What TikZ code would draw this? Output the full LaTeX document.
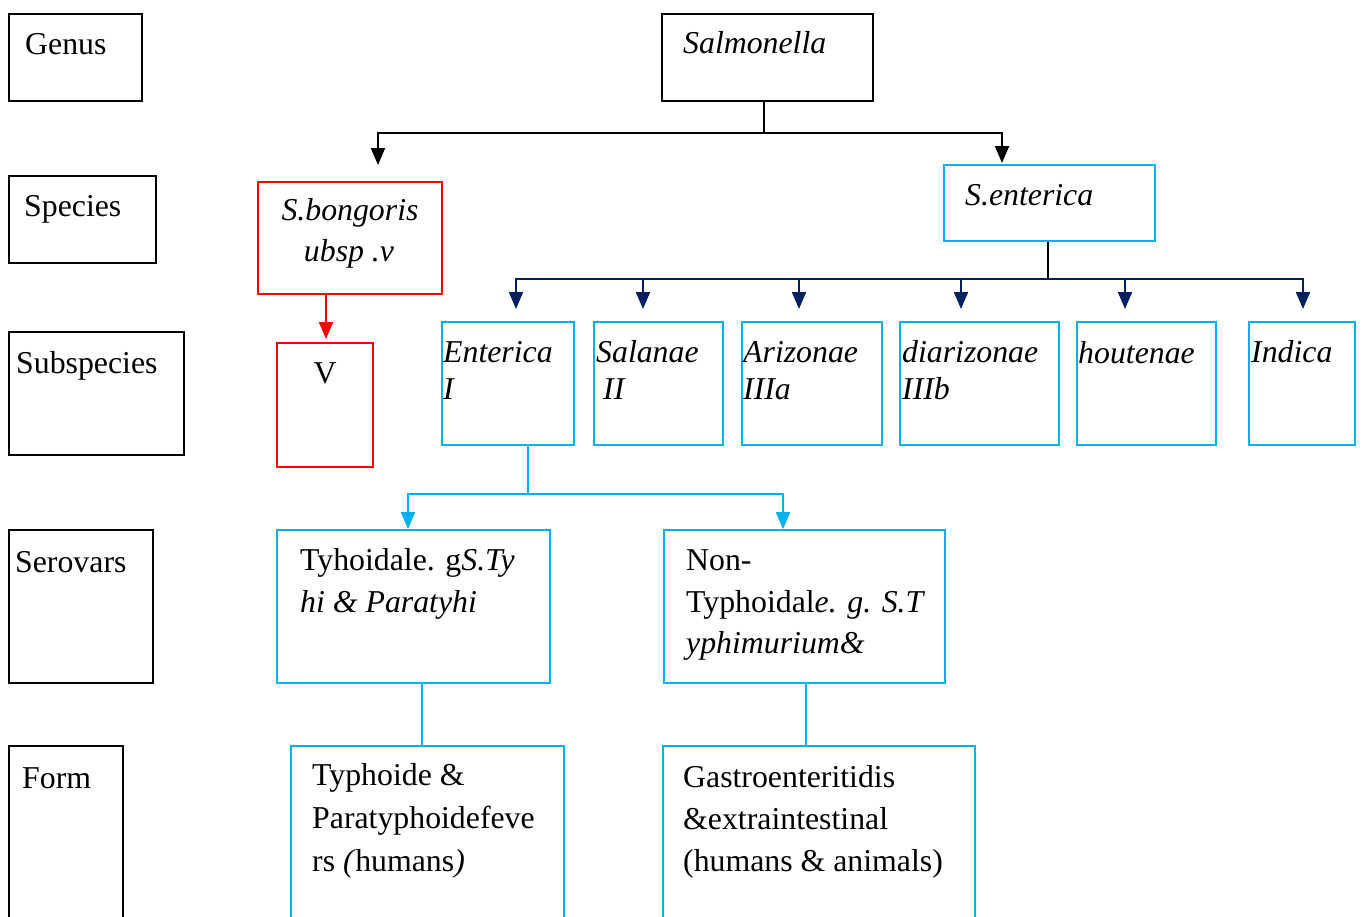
\documentclass[tikz,border=0pt]{standalone}
\usepackage{fontspec}
\setmainfont{Liberation Serif}
\usetikzlibrary{arrows.meta,fit}
\definecolor{cy}{HTML}{00B0F0}
\definecolor{nv}{HTML}{002060}
\definecolor{rd}{HTML}{FF0000}
\begin{document}
\begin{tikzpicture}[x=1pt,y=-1pt, font=\fontsize{31.8}{38}\selectfont,
 bx/.style={draw, line width=1.7pt, inner sep=0pt},
 kb/.style={bx, draw=black},
 cb/.style={bx, draw=cy},
 rb/.style={bx, draw=rd},
 t/.style={anchor=base west, inner sep=0pt},
 tc/.style={anchor=base, inner sep=0pt},
 ln/.style={line width=2pt},
 ar/.style={line width=2pt, -{Triangle[length=17pt,width=14pt]}}]
\clip (0,0) rectangle (1363,916);
% left label boxes
\node[kb, fit={(9,14)(142,101)}] (genus) {};
\node[kb, fit={(9,176)(156,263)}] (species) {};
\node[kb, fit={(9,332)(184,455)}] (subsp) {};
\node[kb, fit={(9,530)(153,683)}] (serov) {};
\node[kb, fit={(9,746)(123,940)}] (form) {};
\node[t] (tgenus) at (25,54) {Genus};
\node[t] (tspec) at (24,216) {Species};
\node[t] (tsub) at (16,373) {Subspecies};
\node[t] (tser) at (15,572) {Serovars};
\node[t] (tform) at (22,788) {Form};
% tree boxes
\node[kb, fit={(662,14)(873,101)}] (salm) {};
\node[rb, fit={(258,182)(442,294)}] (bong) {};
\node[rb, fit={(277,343)(373,467)}] (vbox) {};
\node[cb, fit={(944,165)(1155,241)}] (sent) {};
\node[cb, fit={(442,322)(574,445)}] (ent) {};
\node[cb, fit={(594,322)(723,445)}] (sal) {};
\node[cb, fit={(742,322)(882,445)}] (ari) {};
\node[cb, fit={(900,322)(1059,445)}] (dia) {};
\node[cb, fit={(1077,322)(1216,445)}] (hou) {};
\node[cb, fit={(1249,322)(1355,445)}] (ind) {};
\node[cb, fit={(277,530)(550,683)}] (typ) {};
\node[cb, fit={(664,530)(945,683)}] (non) {};
\node[cb, fit={(291,746)(564,940)}] (typf) {};
\node[cb, fit={(663,746)(975,940)}] (gas) {};
% texts
\node[t] (tsalm) at (683,53) {\itshape Salmonella};
\node[tc] (tbong1) at (350,220) {\itshape S.bongoris};
\node[tc] (tbong2) at (349,261) {\itshape ubsp .v};
\node[tc] (tv) at (325,383) {V};
\node[t] (tsent) at (965,205) {\itshape S.enterica};
\node[t] (tent1) at (443,362) {\itshape Enterica};
\node[t] (tent2) at (443,399) {\itshape I};
\node[t] (tsal1) at (596,362) {\itshape Salanae};
\node[t] (tsal2) at (603,399) {\itshape II};
\node[t] (tari1) at (743,362) {\itshape Arizonae};
\node[t] (tari2) at (743,399) {\itshape IIIa};
\node[t] (tdia1) at (902,362) {\itshape diarizonae};
\node[t] (tdia2) at (902,399) {\itshape IIIb};
\node[t] (thou) at (1078,363) {\itshape houtenae};
\node[t] (tind) at (1251,362) {\itshape Indica};
\node[t] (ttyp1) at (300,570) {Tyhoidale. g\textit{S.Ty}};
\node[t] (ttyp2) at (300,612) {\itshape hi \& Paratyhi};
\node[t] (tnon1) at (686,570) {Non-};
\node[t] (tnon2) at (686,612) {Typhoidal\textit{e. g. S.T}};
\node[t] (tnon3) at (686,653) {\itshape yphimurium\&};
\node[t] (ttf1) at (312,785) {Typhoide \&};
\node[t] (ttf2) at (312,828) {Paratyphoidefeve};
\node[t] (ttf3) at (312,871) {rs \textit{(}humans\textit{)}};
\node[t] (tgas1) at (683,787) {Gastroenteritidis};
\node[t] (tgas2) at (683,829) {\&extraintestinal};
\node[t] (tgas3) at (683,871) {(humans \& animals)};
% black connectors
\draw[ln] (salm.south -| 764,0) -- (764,133) coordinate (j1);
\coordinate (a1) at (378,165);
\coordinate (a2) at (1002,163);
\draw[ar] (j1) -| (a1);
\draw[ar] (j1) -| (a2);
% red connector
\coordinate (a3) at (326,339);
\draw[ar, draw=rd] (bong.south -| a3) -- (a3);
% navy connectors
\draw[ln] (sent.south -| 1048,0) -- (1048,279) coordinate (j2);
\coordinate (n1) at (516,309);
\coordinate (n2) at (643,309);
\coordinate (n3) at (799,309);
\coordinate (n4) at (961,309);
\coordinate (n5) at (1125,309);
\coordinate (n6) at (1303,309);
\foreach \n in {n1,n2,n3,n4,n5,n6} { \draw[ar, draw=nv] (j2) -| (\n); }
% cyan connectors
\draw[ln, draw=cy] (ent.south -| 528,0) -- (528,494) coordinate (j3);
\draw[ar, draw=cy] (j3) -| (typ.north -| 408,0);
\draw[ar, draw=cy] (j3) -| (non.north -| 783,0);
\draw[ln, draw=cy] (typ.south -| 422,0) -- (typf.north -| 422,0);
\draw[ln, draw=cy] (non.south -| 806,0) -- (gas.north -| 806,0);
\end{tikzpicture}
\end{document}
